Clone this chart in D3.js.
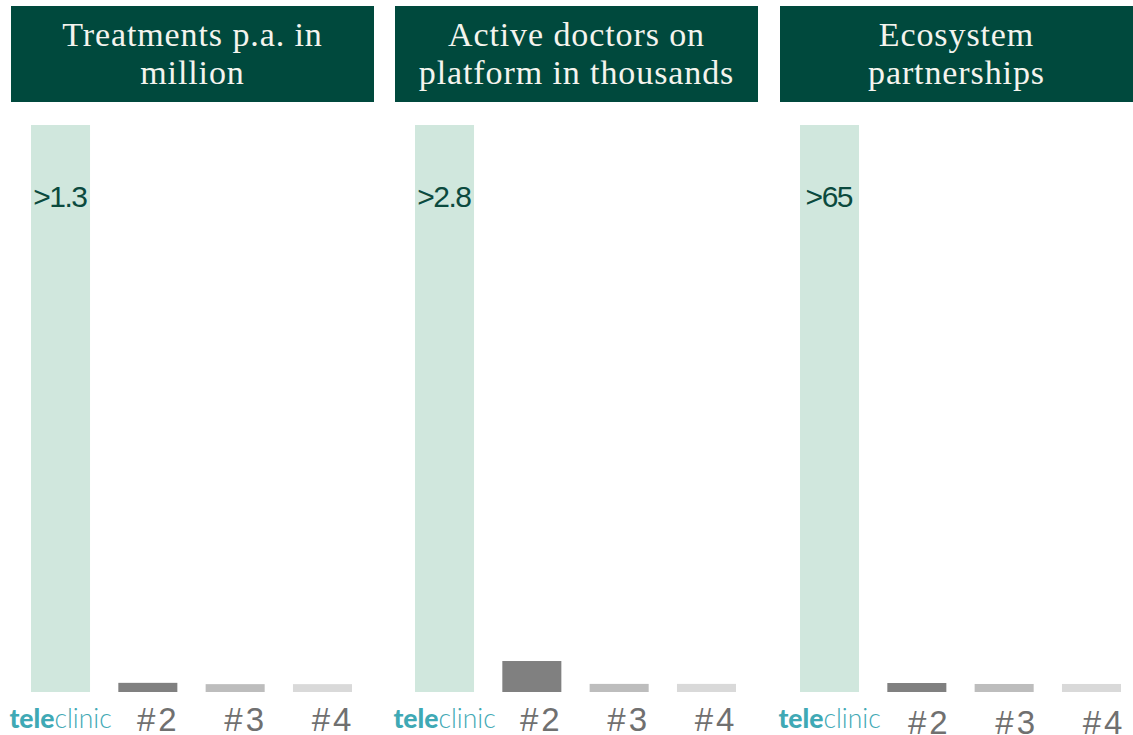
<!DOCTYPE html>
<html>
<head>
<meta charset="utf-8">
<script src="https://cdn.jsdelivr.net/npm/d3@7"></script>
<style>
    body { margin: 0; background: #ffffff; }
    svg { display: block; }
</style>
</head>
<body>
<svg id="chart"></svg>
<script>
// Data
const titles = [
    ["Treatments p.a. in", "million"],
    ["Active doctors on", "platform in thousands"],
    ["Ecosystem", "partnerships"]
];
const categories = ["teleclinic", "#2", "#3", "#4"];
const treatments = [1.3, 0.021, 0.018, 0.018];
const doctors = [2.8, 0.153, 0.04, 0.04];
const partnerships = [65, 1.03, 0.92, 0.92];
const valueLabels = [">1.3", ">2.8", ">65"];

const series = [treatments, doctors, partnerships];

const width = 1133, height = 735;
const panelX = [11, 395, 780];
const panelW = [363, 363, 353];
const labelDy = [0, 0, 3];
const labelDx = [9, 8, 11];
const baseY = 692, topY = 125;

const barColors = ["#d0e7dd", "#808080", "#bdbdbd", "#d9d9d9"];

const svg = d3.select("#chart").attr("width", width).attr("height", height);

series.forEach((values, i) => {
    const x0 = panelX[i];
    const g = svg.append("g");

    // header box
    g.append("rect")
        .attr("x", x0).attr("y", 6)
        .attr("width", panelW[i]).attr("height", 96)
        .attr("fill", "#00493d");

    titles[i].forEach((line, j) => {
        g.append("text")
            .attr("x", x0 + panelW[i] / 2)
            .attr("y", 46 + j * 38)
            .attr("text-anchor", "middle")
            .attr("font-family", "Liberation Serif, serif")
            .attr("font-size", "34px")
            .attr("letter-spacing", "0.9px")
            .attr("fill", "#f4f4ee")
            .text(line);
    });

    const x = d3.scaleBand()
        .domain(categories)
        .range([x0 + 20, x0 + 341])
        .paddingInner(0.324)
        .paddingOuter(0);

    const y = d3.scaleLinear()
        .domain([0, d3.max(values)])
        .range([baseY, topY]);

    g.selectAll("rect.bar")
        .data(values)
        .enter()
        .append("rect")
        .attr("class", "bar")
        .attr("x", (d, k) => x(categories[k]))
        .attr("y", d => y(d))
        .attr("width", x.bandwidth())
        .attr("height", d => baseY - y(d))
        .attr("fill", (d, k) => barColors[k]);

    // value label in the big bar
    g.append("text")
        .attr("x", x(categories[0]) + x.bandwidth() / 2 - 0.7)
        .attr("y", 207)
        .attr("text-anchor", "middle")
        .attr("font-family", "Liberation Sans, sans-serif")
        .attr("font-size", "30px")
        .attr("letter-spacing", "-1.5px")
        .attr("fill", "#0b4a3e")
        .text(valueLabels[i]);

    // category labels
    categories.forEach((c, k) => {
        const cx = x(c) + x.bandwidth() / 2;
        if (k === 0) {
            const t = g.append("text")
                .attr("x", cx)
                .attr("y", 728)
                .attr("text-anchor", "middle")
                .attr("font-family", "Lato, sans-serif")
                .attr("font-size", "26.5px")
                .attr("fill", "#3fa9b5");
            t.append("tspan").attr("font-weight", 900).text("tele");
            t.append("tspan").attr("font-weight", 300).text("clinic");
        } else {
            g.append("text")
                .attr("x", cx + labelDx[i] + 1.5)
                .attr("y", 731 + labelDy[i])
                .attr("text-anchor", "middle")
                .attr("font-family", "Liberation Sans, Arial, sans-serif")
                .attr("font-size", "33px")
                .attr("letter-spacing", "3px")
                .attr("fill", "#707070")
                .text(c);
        }
    });
});
</script>
</body>
</html>
